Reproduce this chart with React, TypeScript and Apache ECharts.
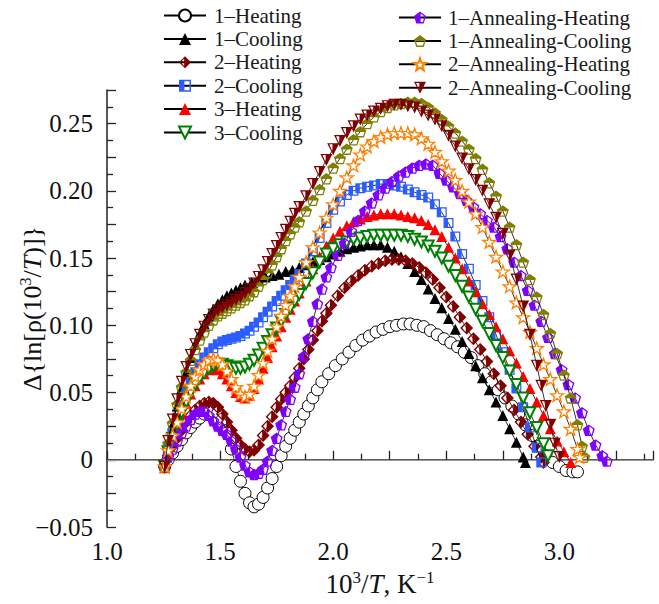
import React, { useEffect, useRef } from 'react';
import * as echarts from 'echarts';

const FONT = "'Liberation Serif', 'Times New Roman', serif";

const seriesNames = [
  '1–Heating', '1–Cooling', '2–Heating', '2–Cooling', '3–Heating', '3–Cooling',
  '1–Annealing-Heating', '1–Annealing-Cooling', '2–Annealing-Heating', '2–Annealing-Cooling',
];

const heating1: [number, number][] = [
  [1.255,-0.005],[1.27,0.0],[1.29,0.005],[1.31,0.01],[1.33,0.015],[1.35,0.02],[1.37,0.024],[1.39,0.028],[1.41,0.031],[1.43,0.034],[1.45,0.035],[1.47,0.036],[1.49,0.035],[1.51,0.03],[1.53,0.02],[1.55,0.008],[1.57,-0.005],[1.59,-0.016],[1.61,-0.025],[1.63,-0.032],[1.65,-0.035],[1.67,-0.033],[1.69,-0.028],[1.71,-0.021],[1.73,-0.014],[1.75,-0.005],[1.77,0.003],[1.79,0.01],[1.81,0.016],[1.83,0.022],[1.85,0.028],[1.87,0.034],[1.89,0.04],[1.91,0.046],[1.93,0.052],[1.95,0.058],[1.98,0.064],[2.01,0.07],[2.04,0.075],[2.07,0.08],[2.1,0.085],[2.13,0.089],[2.16,0.092],[2.19,0.095],[2.22,0.097],[2.25,0.099],[2.28,0.1],[2.31,0.101],[2.34,0.101],[2.37,0.1],[2.4,0.099],[2.43,0.096],[2.46,0.093],[2.49,0.09],[2.52,0.087],[2.55,0.084],[2.58,0.08],[2.61,0.076],[2.64,0.07],[2.67,0.064],[2.7,0.058],[2.73,0.052],[2.76,0.046],[2.79,0.04],[2.82,0.034],[2.85,0.026],[2.88,0.018],[2.91,0.01],[2.94,0.003],[2.97,-0.002],[3.0,-0.005],[3.03,-0.008],[3.06,-0.009],[3.08,-0.009],
];

const cooling1: [number, number][] = [
  [1.255,-0.004],[1.27,0.012],[1.29,0.026],[1.31,0.04],[1.33,0.053],[1.35,0.065],[1.37,0.076],[1.39,0.086],[1.41,0.094],[1.43,0.101],[1.45,0.107],[1.47,0.112],[1.49,0.116],[1.51,0.119],[1.53,0.122],[1.55,0.124],[1.57,0.126],[1.59,0.128],[1.61,0.13],[1.64,0.132],[1.67,0.134],[1.7,0.136],[1.73,0.137],[1.76,0.138],[1.79,0.14],[1.82,0.141],[1.85,0.143],[1.88,0.145],[1.91,0.147],[1.94,0.149],[1.97,0.151],[2.0,0.153],[2.03,0.155],[2.06,0.157],[2.09,0.158],[2.12,0.159],[2.15,0.16],[2.18,0.16],[2.21,0.16],[2.24,0.158],[2.27,0.155],[2.3,0.151],[2.33,0.146],[2.36,0.14],[2.39,0.134],[2.42,0.127],[2.45,0.12],[2.48,0.113],[2.51,0.105],[2.54,0.097],[2.57,0.088],[2.6,0.079],[2.63,0.07],[2.66,0.061],[2.69,0.052],[2.72,0.043],[2.75,0.033],[2.78,0.023],[2.81,0.013],[2.84,0.002],[2.85,-0.002],
];

const heating2: [number, number][] = [
  [1.255,-0.005],[1.27,0.003],[1.29,0.01],[1.31,0.016],[1.33,0.022],[1.35,0.028],[1.37,0.033],[1.39,0.037],[1.41,0.04],[1.43,0.042],[1.45,0.043],[1.47,0.042],[1.49,0.039],[1.51,0.034],[1.53,0.028],[1.55,0.022],[1.57,0.016],[1.59,0.011],[1.61,0.008],[1.63,0.006],[1.65,0.007],[1.67,0.011],[1.69,0.018],[1.71,0.025],[1.73,0.032],[1.75,0.039],[1.77,0.045],[1.79,0.05],[1.81,0.055],[1.83,0.061],[1.85,0.068],[1.87,0.075],[1.89,0.082],[1.91,0.089],[1.93,0.096],[1.95,0.103],[1.97,0.109],[1.99,0.115],[2.02,0.122],[2.05,0.128],[2.08,0.133],[2.11,0.137],[2.14,0.141],[2.17,0.144],[2.2,0.146],[2.23,0.148],[2.26,0.149],[2.29,0.149],[2.32,0.148],[2.35,0.146],[2.38,0.143],[2.41,0.139],[2.44,0.134],[2.47,0.128],[2.5,0.121],[2.53,0.114],[2.56,0.106],[2.59,0.098],[2.62,0.09],[2.65,0.082],[2.68,0.073],[2.71,0.064],[2.74,0.055],[2.77,0.046],[2.8,0.037],[2.83,0.028],[2.86,0.019],[2.89,0.01],[2.92,0.002],[2.93,-0.002],
];

const cooling2: [number, number][] = [
  [1.255,-0.005],[1.27,0.008],[1.29,0.02],[1.31,0.031],[1.33,0.041],[1.35,0.05],[1.37,0.058],[1.39,0.065],[1.41,0.071],[1.43,0.076],[1.45,0.08],[1.47,0.083],[1.49,0.086],[1.51,0.088],[1.53,0.089],[1.55,0.09],[1.57,0.091],[1.59,0.092],[1.61,0.094],[1.63,0.096],[1.65,0.099],[1.67,0.102],[1.69,0.106],[1.71,0.11],[1.73,0.114],[1.75,0.118],[1.77,0.122],[1.79,0.126],[1.81,0.13],[1.83,0.134],[1.85,0.138],[1.88,0.146],[1.91,0.155],[1.94,0.165],[1.97,0.176],[2.0,0.186],[2.03,0.192],[2.06,0.197],[2.09,0.2],[2.12,0.202],[2.15,0.203],[2.18,0.204],[2.21,0.205],[2.24,0.205],[2.27,0.204],[2.3,0.203],[2.33,0.201],[2.36,0.199],[2.39,0.197],[2.42,0.195],[2.45,0.19],[2.48,0.184],[2.51,0.176],[2.54,0.166],[2.57,0.153],[2.6,0.142],[2.63,0.13],[2.66,0.118],[2.69,0.106],[2.72,0.093],[2.75,0.08],[2.78,0.067],[2.81,0.053],[2.84,0.039],[2.87,0.024],[2.9,0.009],[2.92,-0.002],
];

const heating3: [number, number][] = [
  [1.255,-0.006],[1.27,0.005],[1.29,0.015],[1.31,0.025],[1.33,0.034],[1.35,0.042],[1.37,0.049],[1.39,0.055],[1.41,0.06],[1.43,0.064],[1.45,0.067],[1.47,0.068],[1.49,0.067],[1.51,0.064],[1.53,0.06],[1.55,0.055],[1.57,0.05],[1.59,0.047],[1.61,0.046],[1.63,0.048],[1.65,0.053],[1.67,0.06],[1.69,0.068],[1.71,0.076],[1.73,0.084],[1.75,0.092],[1.77,0.099],[1.79,0.106],[1.81,0.112],[1.83,0.118],[1.85,0.124],[1.88,0.133],[1.91,0.142],[1.94,0.151],[1.97,0.159],[2.0,0.165],[2.03,0.17],[2.06,0.174],[2.09,0.177],[2.12,0.179],[2.15,0.181],[2.18,0.182],[2.21,0.183],[2.24,0.183],[2.27,0.183],[2.3,0.182],[2.33,0.181],[2.36,0.18],[2.39,0.178],[2.42,0.175],[2.45,0.171],[2.48,0.166],[2.51,0.158],[2.54,0.15],[2.57,0.142],[2.6,0.133],[2.63,0.125],[2.66,0.116],[2.69,0.108],[2.72,0.099],[2.75,0.09],[2.78,0.081],[2.81,0.072],[2.84,0.062],[2.87,0.053],[2.9,0.043],[2.93,0.033],[2.96,0.023],[2.99,0.014],[3.02,0.006],[3.05,-0.002],
];

const cooling3: [number, number][] = [
  [1.255,-0.005],[1.27,0.006],[1.29,0.016],[1.31,0.026],[1.33,0.035],[1.35,0.043],[1.37,0.05],[1.39,0.056],[1.41,0.061],[1.43,0.065],[1.45,0.068],[1.47,0.07],[1.49,0.071],[1.51,0.071],[1.53,0.07],[1.55,0.069],[1.57,0.068],[1.59,0.068],[1.61,0.069],[1.63,0.071],[1.65,0.074],[1.67,0.078],[1.69,0.083],[1.71,0.088],[1.73,0.093],[1.75,0.098],[1.77,0.103],[1.79,0.108],[1.81,0.113],[1.83,0.118],[1.85,0.123],[1.88,0.131],[1.91,0.139],[1.94,0.147],[1.97,0.153],[2.0,0.157],[2.03,0.16],[2.06,0.162],[2.09,0.164],[2.12,0.165],[2.15,0.166],[2.18,0.167],[2.21,0.167],[2.24,0.167],[2.27,0.167],[2.3,0.167],[2.33,0.166],[2.36,0.164],[2.39,0.162],[2.42,0.159],[2.45,0.155],[2.48,0.15],[2.51,0.144],[2.54,0.137],[2.57,0.129],[2.6,0.121],[2.63,0.112],[2.66,0.103],[2.69,0.094],[2.72,0.085],[2.75,0.076],[2.78,0.066],[2.81,0.056],[2.84,0.046],[2.87,0.035],[2.9,0.024],[2.93,0.012],[2.95,0.003],
];

const annHeating1: [number, number][] = [
  [1.255,-0.005],[1.27,0.002],[1.29,0.008],[1.31,0.014],[1.33,0.02],[1.35,0.025],[1.37,0.03],[1.39,0.034],[1.41,0.036],[1.43,0.036],[1.45,0.033],[1.47,0.029],[1.49,0.025],[1.51,0.022],[1.53,0.019],[1.55,0.014],[1.57,0.008],[1.59,0.002],[1.61,-0.004],[1.63,-0.009],[1.65,-0.011],[1.67,-0.01],[1.69,-0.007],[1.71,-0.001],[1.73,0.007],[1.75,0.016],[1.77,0.026],[1.79,0.036],[1.81,0.045],[1.83,0.054],[1.85,0.064],[1.87,0.077],[1.89,0.09],[1.91,0.103],[1.93,0.116],[1.95,0.127],[1.97,0.136],[1.99,0.143],[2.02,0.152],[2.05,0.161],[2.08,0.17],[2.11,0.178],[2.14,0.185],[2.17,0.191],[2.2,0.197],[2.23,0.202],[2.26,0.207],[2.29,0.211],[2.32,0.214],[2.35,0.217],[2.38,0.219],[2.41,0.22],[2.44,0.219],[2.47,0.213],[2.5,0.208],[2.53,0.203],[2.56,0.198],[2.59,0.193],[2.62,0.188],[2.65,0.183],[2.68,0.178],[2.71,0.173],[2.74,0.166],[2.77,0.157],[2.8,0.147],[2.83,0.137],[2.86,0.126],[2.89,0.115],[2.92,0.103],[2.95,0.091],[2.98,0.079],[3.01,0.067],[3.04,0.056],[3.07,0.046],[3.1,0.035],[3.13,0.022],[3.16,0.011],[3.19,0.003],[3.21,-0.001],
];

const annCooling1: [number, number][] = [
  [1.255,-0.005],[1.27,0.012],[1.29,0.027],[1.31,0.041],[1.33,0.054],[1.35,0.065],[1.37,0.074],[1.39,0.082],[1.41,0.089],[1.43,0.095],[1.45,0.1],[1.47,0.104],[1.49,0.107],[1.51,0.109],[1.53,0.111],[1.55,0.113],[1.57,0.115],[1.59,0.117],[1.61,0.119],[1.63,0.122],[1.65,0.125],[1.67,0.129],[1.69,0.134],[1.71,0.139],[1.73,0.145],[1.75,0.151],[1.77,0.157],[1.79,0.163],[1.81,0.168],[1.83,0.173],[1.85,0.177],[1.88,0.185],[1.91,0.193],[1.94,0.201],[1.97,0.209],[2.0,0.217],[2.03,0.224],[2.06,0.231],[2.09,0.238],[2.12,0.244],[2.15,0.25],[2.18,0.255],[2.21,0.259],[2.24,0.262],[2.27,0.264],[2.3,0.265],[2.33,0.266],[2.36,0.266],[2.39,0.265],[2.42,0.262],[2.45,0.258],[2.48,0.253],[2.51,0.248],[2.54,0.243],[2.57,0.237],[2.6,0.231],[2.63,0.224],[2.66,0.216],[2.69,0.206],[2.72,0.196],[2.75,0.185],[2.78,0.173],[2.81,0.16],[2.84,0.147],[2.87,0.134],[2.9,0.121],[2.93,0.108],[2.96,0.094],[2.99,0.079],[3.02,0.063],[3.05,0.046],[3.08,0.026],[3.1,0.01],[3.11,0.002],
];

const annHeating2: [number, number][] = [
  [1.255,-0.005],[1.27,0.007],[1.29,0.018],[1.31,0.028],[1.33,0.038],[1.35,0.047],[1.37,0.055],[1.39,0.062],[1.41,0.067],[1.43,0.071],[1.45,0.074],[1.47,0.075],[1.49,0.074],[1.51,0.071],[1.53,0.066],[1.55,0.06],[1.57,0.054],[1.59,0.049],[1.61,0.047],[1.63,0.049],[1.65,0.055],[1.67,0.063],[1.69,0.072],[1.71,0.081],[1.73,0.09],[1.75,0.099],[1.77,0.107],[1.79,0.115],[1.81,0.122],[1.83,0.129],[1.85,0.136],[1.88,0.147],[1.91,0.158],[1.94,0.169],[1.97,0.18],[2.0,0.19],[2.03,0.2],[2.06,0.21],[2.09,0.219],[2.12,0.227],[2.15,0.233],[2.18,0.237],[2.21,0.24],[2.24,0.242],[2.27,0.243],[2.3,0.243],[2.33,0.243],[2.36,0.242],[2.39,0.239],[2.42,0.235],[2.45,0.229],[2.48,0.222],[2.51,0.215],[2.54,0.208],[2.57,0.2],[2.6,0.192],[2.63,0.183],[2.66,0.173],[2.69,0.162],[2.72,0.151],[2.75,0.14],[2.78,0.129],[2.81,0.117],[2.84,0.106],[2.87,0.095],[2.9,0.083],[2.93,0.071],[2.96,0.06],[2.99,0.048],[3.02,0.036],[3.05,0.023],[3.08,0.008],[3.09,0.002],
];

const annCooling2: [number, number][] = [
  [1.255,-0.005],[1.27,0.014],[1.29,0.03],[1.31,0.045],[1.33,0.058],[1.35,0.069],[1.37,0.078],[1.39,0.086],[1.41,0.093],[1.43,0.099],[1.45,0.104],[1.47,0.108],[1.49,0.111],[1.51,0.113],[1.53,0.115],[1.55,0.117],[1.57,0.119],[1.59,0.121],[1.61,0.124],[1.63,0.127],[1.65,0.131],[1.67,0.136],[1.69,0.141],[1.71,0.147],[1.73,0.153],[1.75,0.159],[1.77,0.165],[1.79,0.171],[1.81,0.177],[1.83,0.183],[1.85,0.188],[1.88,0.196],[1.91,0.205],[1.94,0.214],[1.97,0.223],[2.0,0.231],[2.03,0.237],[2.06,0.243],[2.09,0.248],[2.12,0.253],[2.15,0.256],[2.18,0.259],[2.21,0.261],[2.24,0.263],[2.27,0.264],[2.3,0.264],[2.33,0.263],[2.36,0.262],[2.39,0.259],[2.42,0.256],[2.45,0.253],[2.48,0.248],[2.51,0.241],[2.54,0.233],[2.57,0.224],[2.6,0.216],[2.63,0.208],[2.66,0.2],[2.69,0.19],[2.72,0.18],[2.75,0.168],[2.78,0.152],[2.81,0.134],[2.84,0.114],[2.87,0.093],[2.9,0.07],[2.92,0.055],[2.94,0.04],[2.96,0.026],[2.98,0.012],[3.0,0.002],
];

const seriesData = [
  heating1, cooling1, heating2, cooling2, heating3, cooling3,
  annHeating1, annCooling1, annHeating2, annCooling2,
];

const X_MIN = 1.0;
const X_MAX = 3.414;
const Y_MIN = -0.05;
const Y_MAX = 0.275;

// marker shapes (20x20 box), holes drawn with opposite winding
const HALF_DIAMOND = 'path://M10 0L20 10L10 20L0 10ZM8.6 3.8L3.2 10L8.6 16.2Z';
const HALF_SQUARE = 'path://M0 0L20 0L20 20L0 20ZM9 2.5L9 17.5L17.5 17.5L17.5 2.5Z';
const DOWN_TRI = 'path://M0 0L20 0L10 20Z';
const HALF_DOWN_TRI = 'path://M0 0L20 0L10 20ZM3.5 2L8.8 14.5L8.8 2Z';
const PENT_RIGHT_HOLE = 'path://M10 0.5L19.5 7.4L15.9 18.6L4.1 18.6L0.5 7.4ZM11 3.5L11 16.5L14.6 16.5L17 8.2Z';
const PENT_BOTTOM_HOLE = 'path://M10 0.5L19.5 7.4L15.9 18.6L4.1 18.6L0.5 7.4ZM3.5 10L5.4 16.5L14.6 16.5L16.5 10Z';
const STAR = 'path://M10 0.5L12.35 7.26L19.51 7.41L13.8 11.74L15.88 18.59L10 14.5L4.12 18.59L6.2 11.74L0.49 7.41L7.65 7.26Z';

const markerSpecs: { symbol: string; size: number; itemStyle: any }[] = [
  { symbol: 'circle', size: 12, itemStyle: { color: '#ffffff', borderColor: '#000000', borderWidth: 1 } },
  { symbol: 'triangle', size: 11, itemStyle: { color: '#000000' } },
  { symbol: HALF_DIAMOND, size: 13, itemStyle: { color: '#800000' } },
  { symbol: HALF_SQUARE, size: 10, itemStyle: { color: '#2a5cff' } },
  { symbol: 'triangle', size: 11, itemStyle: { color: '#ff0000' } },
  { symbol: DOWN_TRI, size: 11, itemStyle: { color: '#ffffff', borderColor: '#008000', borderWidth: 2 } },
  { symbol: PENT_RIGHT_HOLE, size: 12, itemStyle: { color: '#8000ff' } },
  { symbol: PENT_BOTTOM_HOLE, size: 12, itemStyle: { color: '#808000' } },
  { symbol: STAR, size: 13, itemStyle: { color: '#ffffff', borderColor: '#ff8000', borderWidth: 1.3 } },
  { symbol: HALF_DOWN_TRI, size: 12, itemStyle: { color: '#800000' } },
];

const isMultiple = (v: number, step: number) => Math.abs(v / step - Math.round(v / step)) < 1e-6;

export default function App() {
  const ref = useRef<HTMLDivElement>(null);
  useEffect(() => {
    document.body.style.margin = '0';
    const chart = echarts.init(ref.current!, null, { renderer: 'svg' });
    const legendText = { fontFamily: FONT, fontSize: 21, color: '#1a1a1a' };
    const series: any[] = seriesNames.map((name, i) => ({
      name,
      type: 'line',
      data: seriesData[i],
      symbol: markerSpecs[i].symbol,
      symbolSize: markerSpecs[i].size,
      symbolKeepAspect: true,
      showAllSymbol: true,
      lineStyle: { color: '#000000', width: 0.8 },
      itemStyle: markerSpecs[i].itemStyle,
      emphasis: { disabled: true },
      z: 3 + i,
    }));
    series[0].markLine = {
      silent: true,
      symbol: 'none',
      label: { show: false },
      lineStyle: { color: '#999999', width: 1, type: 'solid' },
      data: [{ yAxis: 0 }],
      z: 1,
    };
    const richX = {
      a: { fontFamily: FONT, fontSize: 27, color: '#111', lineHeight: 31 },
      i: { fontFamily: FONT, fontSize: 27, color: '#111', fontStyle: 'italic', lineHeight: 31 },
      sup: { fontFamily: FONT, fontSize: 17, color: '#111', verticalAlign: 'top', lineHeight: 17 },
    };
    const richY = {
      a: { fontFamily: FONT, fontSize: 26, color: '#111', lineHeight: 30 },
      i: { fontFamily: FONT, fontSize: 26, color: '#111', fontStyle: 'italic', lineHeight: 30 },
      sup: { fontFamily: FONT, fontSize: 16, color: '#111', verticalAlign: 'top', lineHeight: 16 },
    };
    const option: any = {
      animation: false,
      backgroundColor: '#ffffff',
      textStyle: { fontFamily: FONT },
      grid: { left: 107, right: 6, top: 90, bottom: 77, containLabel: false, outerBoundsMode: 'none' },
      legend: [
        {
          data: seriesNames.slice(0, 6),
          orient: 'vertical',
          left: 158,
          top: 0,
          itemWidth: 42,
          itemHeight: 15,
          itemGap: 2.4,
          selectedMode: false,
          textStyle: { ...legendText, padding: [0, 0, 0, 3] },
        },
        {
          data: seriesNames.slice(6),
          orient: 'vertical',
          left: 393,
          top: 2,
          itemWidth: 42,
          itemHeight: 15,
          itemGap: 2.4,
          selectedMode: false,
          textStyle: { ...legendText, padding: [0, 0, 0, 2] },
        },
      ],
      xAxis: {
        type: 'value',
        min: X_MIN,
        max: X_MAX,
        interval: 0.25,
        name: '{a|10}{sup|3}{a|/}{i|T}{a|, K}{sup|−1}',
        nameLocation: 'middle',
        nameGap: 38,
        nameTextStyle: { fontFamily: FONT, fontSize: 27, color: '#111', lineHeight: 31, rich: richX },
        axisLine: { show: true, lineStyle: { color: '#222', width: 1.5 } },
        axisTick: { show: true, inside: true, length: 9, lineStyle: { color: '#222', width: 1.3 } },
        minorTick: { show: true, splitNumber: 2, length: 6, lineStyle: { color: '#222', width: 1.3 } },
        splitLine: { show: false },
        axisLabel: {
          fontFamily: FONT, fontSize: 25, color: '#111', margin: 12,
          formatter: (v: number) => (isMultiple(v, 0.5) ? v.toFixed(1) : ''),
        },
      },
      yAxis: {
        type: 'value',
        min: Y_MIN,
        max: Y_MAX,
        interval: 0.025,
        name: '{a|Δ{ln[ρ(10}{sup|3}{a|/}{i|T}{a|)]}}',
        nameLocation: 'middle',
        nameRotate: 90,
        nameGap: 60,
        nameMoveOverlap: false,
        nameTextStyle: { fontFamily: FONT, fontSize: 26, color: '#111', lineHeight: 30, rich: richY },
        axisLine: { show: true, lineStyle: { color: '#222', width: 1.5 } },
        axisTick: { show: true, inside: true, length: 9, lineStyle: { color: '#222', width: 1.3 } },
        minorTick: { show: true, splitNumber: 2, length: 6, lineStyle: { color: '#222', width: 1.3 } },
        splitLine: { show: false },
        axisLabel: {
          fontFamily: FONT, fontSize: 25, color: '#111', margin: 14,
          formatter: (v: number) => {
            if (!isMultiple(v, 0.05)) return '';
            if (Math.abs(v) < 1e-9) return '0';
            return v < 0 ? '−' + Math.abs(v).toFixed(2) : v.toFixed(2);
          },
        },
      },
      series,
    };
    chart.setOption(option);
    return () => chart.dispose();
  }, []);
  return <div ref={ref} style={{ width: 659, height: 604 }} />;
}
